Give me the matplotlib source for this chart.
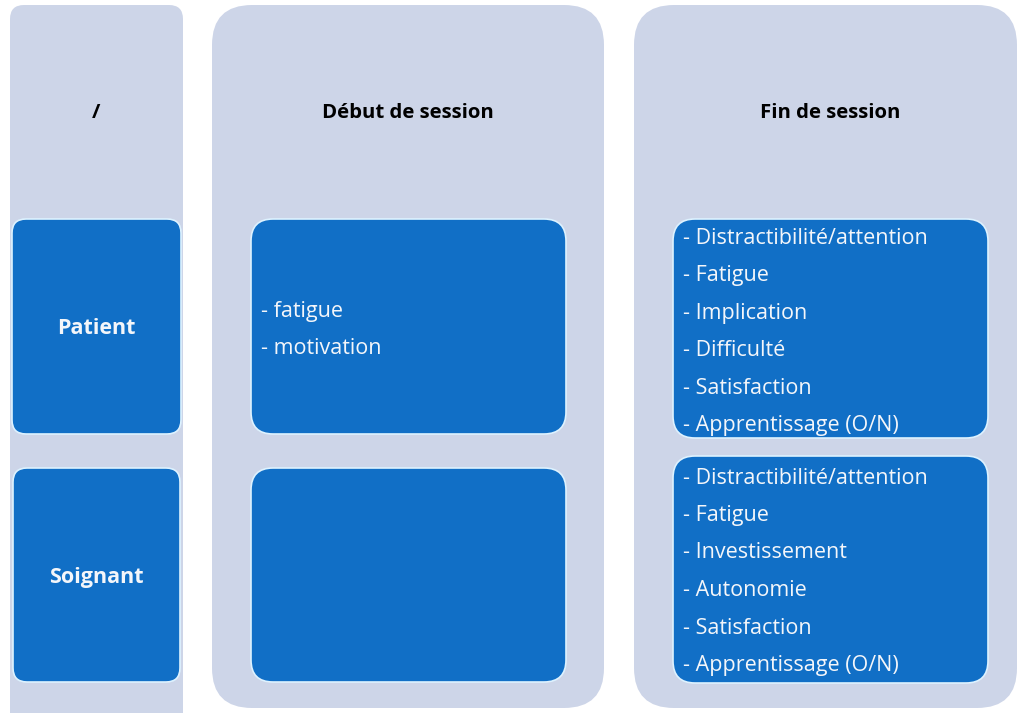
import matplotlib
matplotlib.use("Agg")
import matplotlib.pyplot as plt
from matplotlib.patches import FancyBboxPatch

# ── Content ───────────────────────────────────────────────────────────────
col_headers = ["/", "Début de session", "Fin de session"]
row_labels = ["Patient", "Soignant"]
debut_patient = ["- fatigue", "- motivation"]
debut_soignant = []
fin_patient = ["- Distractibilité/attention", "- Fatigue", "- Implication",
               "- Difficulté", "- Satisfaction", "- Apprentissage (O/N)"]
fin_soignant = ["- Distractibilité/attention", "- Fatigue", "- Investissement",
                "- Autonomie", "- Satisfaction", "- Apprentissage (O/N)"]

BG = "#CDD5E8"
BLUE = "#116FC6"
EDGE = "#DDF2FF"
TXT = "#F4F6FA"
FONT = ["Open Sans", "DejaVu Sans"]

fig = plt.figure(figsize=(10.19, 7.13), dpi=100)
ax = fig.add_axes([0, 0, 1, 1])
ax.set_xlim(0, 1019)
ax.set_ylim(713, 0)
ax.axis("off")


def rbox(x0, y0, x1, y1, r, fc, ec="none", lw=0):
    p = FancyBboxPatch((x0, y0), x1 - x0, y1 - y0,
                       boxstyle=f"round,pad=0,rounding_size={r}",
                       fc=fc, ec=ec, lw=lw)
    ax.add_patch(p)


# background columns
rbox(10, 5, 183, 730, 14, BG)
rbox(212, 5, 604, 708, 40, BG)
rbox(634, 5, 1017, 708, 40, BG)

# headers
for x, h in zip([96, 408, 830], col_headers):
    ax.text(x, 113, h, ha="center", va="center", fontsize=14.7,
            fontweight="bold", family=FONT, color="black")

# row label boxes
rbox(12, 219, 181, 434, 14, BLUE, EDGE, 1.2)
rbox(13, 468, 180, 682, 14, BLUE, EDGE, 1.2)
for y, lab in zip([329, 578], row_labels):
    ax.text(96, y, lab, ha="center", va="center", fontsize=15.5,
            fontweight="bold", family=FONT, color=TXT)

# début de session boxes
rbox(251, 219, 566, 434, 22, BLUE, EDGE, 1.2)
rbox(251, 468, 566, 682, 22, BLUE, EDGE, 1.2)

# fin de session boxes
rbox(673, 219, 988, 438, 22, BLUE, EDGE, 1.2)
rbox(673, 456, 988, 683, 22, BLUE, EDGE, 1.2)

step = 37.5
for i, t in enumerate(debut_patient):
    ax.text(261, 311 + i * step, t, ha="left", va="center", fontsize=15.5,
            family=FONT, color=TXT)
for i, t in enumerate(debut_soignant):
    ax.text(261, 560 + i * step, t, ha="left", va="center", fontsize=15.5,
            family=FONT, color=TXT)
for i, t in enumerate(fin_patient):
    ax.text(683, 238 + i * step, t, ha="left", va="center", fontsize=15.5,
            family=FONT, color=TXT)
for i, t in enumerate(fin_soignant):
    ax.text(683, 478 + i * step, t, ha="left", va="center", fontsize=15.5,
            family=FONT, color=TXT)

fig.savefig("out.png", dpi=100, facecolor="white")
